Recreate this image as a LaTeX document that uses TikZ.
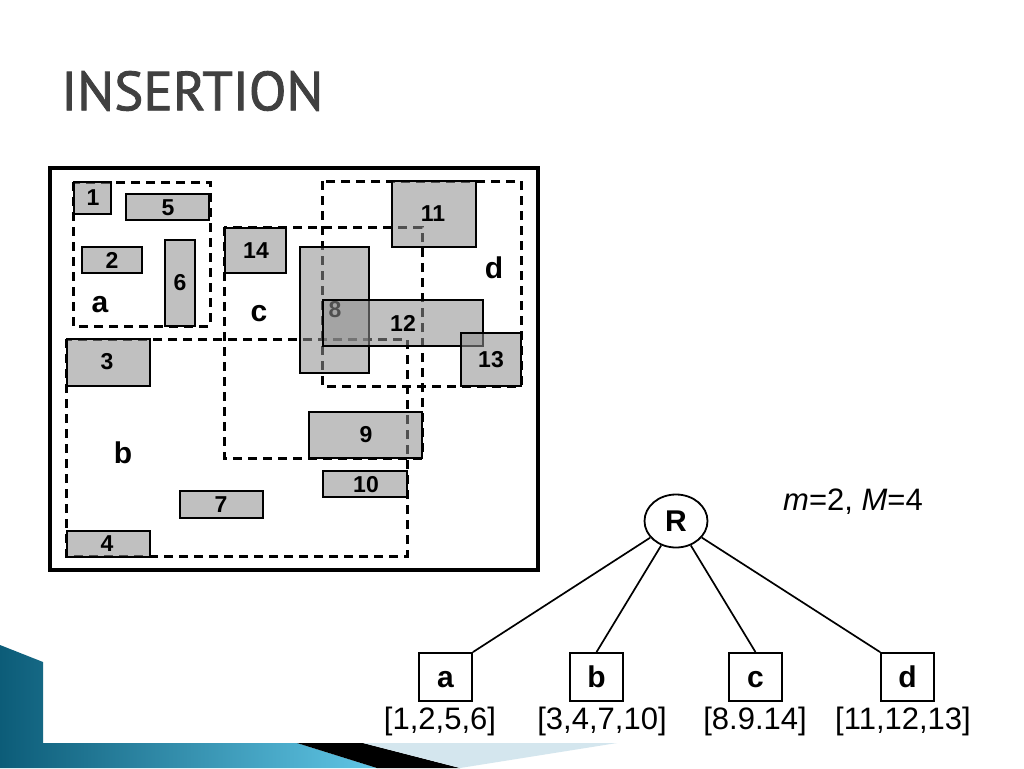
\documentclass[tikz,border=0pt]{standalone}
\usepackage{fontspec}
\setmainfont{Liberation Sans}
\newfontfamily\titlefont[FakeBold=1.5]{PT Sans}
\usetikzlibrary{shapes.geometric}
\definecolor{boxfill}{RGB}{143,143,143}
\definecolor{titlegray}{RGB}{64,64,64}
\definecolor{tealdark}{RGB}{12,92,120}
\definecolor{teallight}{RGB}{96,198,230}
\definecolor{paleblue}{RGB}{212,230,238}
\tikzset{
  frame/.style={draw=black, line width=4pt},
  mbr/.style={draw=black, line width=3pt, dash pattern=on 9pt off 6pt},
  gbox/.style={draw=black, line width=1.8pt, fill=boxfill, fill opacity=0.56},
  blabel/.style={font=\fontsize{23}{25}\selectfont\bfseries, inner sep=0pt},
  rlabel/.style={font=\fontsize{30}{32}\selectfont\bfseries, inner sep=0pt},
  leaf/.style={draw=black, line width=1.8pt, minimum width=53pt, minimum height=48pt, inner sep=0pt, text height=20pt, text depth=0pt, font=\fontsize{30}{32}\selectfont\bfseries},
  root/.style={draw=black, line width=1.8pt, ellipse, minimum width=63pt, minimum height=53pt, inner sep=0pt, font=\fontsize{30}{32}\selectfont\bfseries},
  entries/.style={font=\fontsize{31}{33}\selectfont, inner sep=0pt},
  edge/.style={draw=black, line width=1.7pt}
}
\begin{document}
\begin{tikzpicture}[x=1pt, y=-1pt]
\useasboundingbox (0,0) rectangle (1024,768);
\fill[white] (0,0) rectangle (1024,768);
% bottom decoration
\shade[left color=tealdark, right color=teallight] (0,645) -- (43,662) -- (43,743) -- (297,743) -- (377,768) -- (0,768) -- cycle;
\fill[black] (297,743) -- (363,743) -- (460,768) -- (377,768) -- cycle;
\fill[paleblue] (363,743) -- (617,743) -- (460,768) -- cycle;
% title
\node[anchor=west, inner sep=0pt, text=titlegray, font=\titlefont\fontsize{55}{58}\selectfont] (title) at (61,91) {INSERTION};
% outer frame
\draw[frame] (50,168) rectangle (538,570);
% dashed MBRs
\draw[mbr] (73,182) rectangle (210,326);
\draw[mbr] (224,227) rectangle (422,458);
\draw[mbr] (322,181) rectangle (521,386);
\draw[mbr] (66,339) rectangle (407,556);
% region labels
\node[rlabel] (la) at (100,305) {a};
\node[rlabel] (lb) at (123,453) {b};
\node[rlabel] (lc) at (259,314) {c};
\node[rlabel] (ld) at (494,268) {d};
% data rectangles
\draw[gbox] (74,182) rectangle (111,214);  \node[blabel] (n1) at (93,198) {1};
\draw[gbox] (126,194) rectangle (209,220); \node[blabel] (n5) at (168,208) {5};
\draw[gbox] (82,247) rectangle (142,273);  \node[blabel] (n2) at (112,260) {2};
\draw[gbox] (165,240) rectangle (195,326); \node[blabel] (n6) at (180,283) {6};
\draw[gbox] (225,228) rectangle (286,273); \node[blabel] (n14) at (256,251) {14};
\draw[gbox] (67,339) rectangle (150,386);  \node[blabel] (n3) at (107,362) {3};
\draw[gbox] (180,491) rectangle (263,518); \node[blabel] (n7) at (221,505) {7};
\draw[gbox] (67,531) rectangle (150,557);  \node[blabel] (n4) at (107,544) {4};
\draw[gbox] (392,181) rectangle (476,247); \node[blabel] (n11) at (433,214) {11};
\draw[gbox] (300,247) rectangle (369,373); \node[blabel] (n8) at (335,310) {8};
\draw[gbox] (323,300) rectangle (483,346); \node[blabel] (n12) at (403,323) {12};
\draw[gbox] (461,333) rectangle (521,386); \node[blabel] (n13) at (491,360) {13};
\draw[gbox] (309,412) rectangle (422,458); \node[blabel] (n9) at (366,435) {9};
\draw[gbox] (323,471) rectangle (407,497); \node[blabel] (n10) at (366,485) {10};
% tree
\node[root] (R) at (676,521) {R};
\node[inner sep=0pt, font=\fontsize{31}{33}\selectfont] (mm) at (853,502) {\textit{m}=2, \textit{M}=4};
\node[leaf] (a) at (445.5,677) {a};
\node[leaf] (b) at (596.5,677) {b};
\node[leaf] (c) at (755.5,677) {c};
\node[leaf] (d) at (907.5,677) {d};
\draw[edge] (R) -- (a.north east);
\draw[edge] (R) -- (b.north);
\draw[edge] (R) -- (c.north);
\draw[edge] (R) -- (d.north west);
\node[entries] (ea) at (440,721) {[1,2,5,6]};
\node[entries] (eb) at (602,721) {[3,4,7,10]};
\node[entries] (ec) at (755,721) {[8.9.14]};
\node[entries] (ed) at (903,721) {[11,12,13]};
\end{tikzpicture}
\end{document}
